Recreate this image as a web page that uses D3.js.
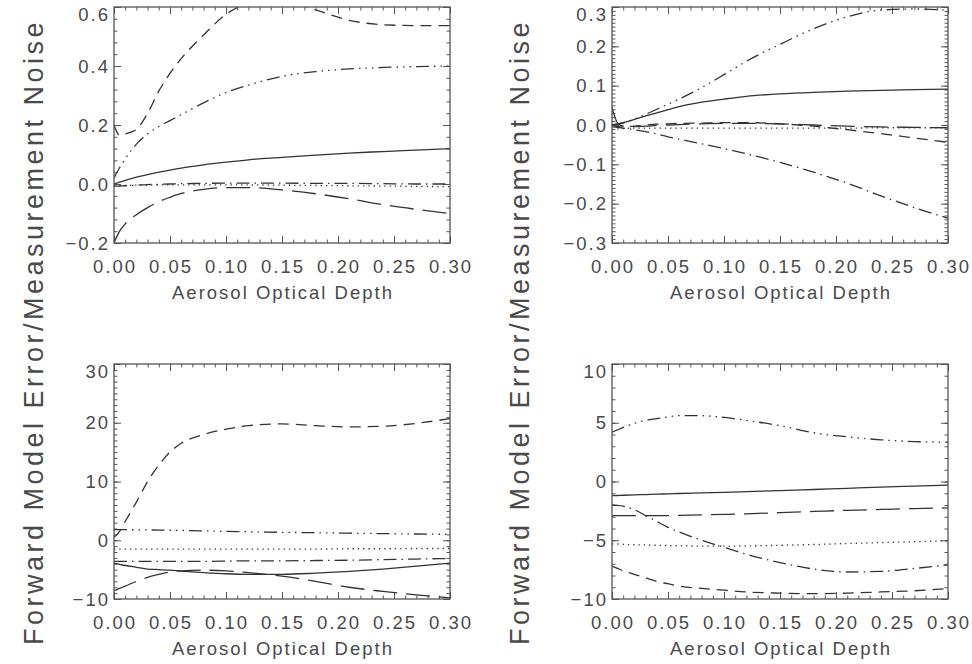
<!DOCTYPE html>
<html>
<head>
<meta charset="utf-8">
<script src="https://cdn.jsdelivr.net/npm/d3@7"></script>
<style>
  html, body { margin: 0; padding: 0; background: #fff; }
  svg { display: block; }
  text { font-family: "Liberation Sans", Arial, sans-serif; fill: #4a4a4a; }
</style>
</head>
<body>
<svg id="chart" width="972" height="664"></svg>
<script>
// ---------------- DATA ----------------
const xGrid = [0, 0.005, 0.01, 0.02, 0.03, 0.04, 0.05, 0.06, 0.08, 0.10, 0.12, 0.15, 0.18, 0.21, 0.24, 0.27, 0.30];
const xTicks = [0, 0.05, 0.10, 0.15, 0.20, 0.25, 0.30];
const xLabel = "Aerosol Optical Depth";
const yLabel = "Forward Model Error/Measurement Noise";
const seriesNames = ["solid", "dotted", "dashed", "dashDot", "dashDot3", "longDash"];

// Panel 1 (top-left)
const p1Solid    = [0, 0.006, 0.012, 0.023, 0.032, 0.040, 0.047, 0.054, 0.065, 0.074, 0.082, 0.090, 0.098, 0.105, 0.110, 0.115, 0.120];
const p1Dotted   = [-0.006, -0.006, -0.005, -0.004, -0.004, -0.003, -0.003, -0.003, -0.003, -0.003, -0.003, -0.004, -0.005, -0.006, -0.007, -0.008, -0.009];
const p1Dashed   = [0.20, 0.165, 0.17, 0.185, 0.24, 0.315, 0.375, 0.425, 0.505, 0.575, 0.612, 0.625, 0.59, 0.555, 0.54, 0.537, 0.537];
const p1DashDot  = [-0.008, -0.007, -0.006, -0.004, -0.002, -0.001, 0.0, 0.001, 0.002, 0.003, 0.003, 0.003, 0.002, 0.002, 0.001, 0.0, 0.0];
const p1DashDot3 = [0.02, 0.055, 0.085, 0.135, 0.17, 0.195, 0.215, 0.235, 0.275, 0.31, 0.335, 0.365, 0.381, 0.39, 0.395, 0.398, 0.40];
const p1LongDash = [-0.20, -0.16, -0.135, -0.104, -0.08, -0.06, -0.045, -0.032, -0.018, -0.012, -0.012, -0.02, -0.033, -0.05, -0.07, -0.086, -0.10];
const p1YTicks   = [-0.2, 0.0, 0.2, 0.4, 0.6];

// Panel 2 (top-right)
const p2Solid    = [0, 0.003, 0.006, 0.014, 0.023, 0.031, 0.039, 0.047, 0.058, 0.066, 0.073, 0.079, 0.083, 0.086, 0.088, 0.090, 0.091];
const p2Dotted   = [-0.012, -0.010, -0.009, -0.008, -0.008, -0.008, -0.008, -0.008, -0.008, -0.008, -0.008, -0.008, -0.008, -0.008, -0.007, -0.007, -0.007];
const p2Dashed   = [0.0, -0.004, -0.005, -0.003, 0.0, 0.002, 0.003, 0.004, 0.005, 0.006, 0.006, 0.003, -0.003, -0.012, -0.022, -0.033, -0.044];
const p2DashDot  = [-0.005, -0.006, -0.008, -0.012, -0.017, -0.023, -0.03, -0.036, -0.048, -0.06, -0.073, -0.095, -0.12, -0.148, -0.18, -0.21, -0.237];
const p2DashDot3 = [0, 0.002, 0.005, 0.015, 0.027, 0.04, 0.053, 0.066, 0.095, 0.128, 0.162, 0.205, 0.245, 0.275, 0.292, 0.295, 0.292];
const p2LongDash = [0.045, 0.005, -0.003, -0.004, -0.003, -0.001, 0.0, 0.001, 0.003, 0.004, 0.004, 0.003, 0.0, -0.003, -0.005, -0.006, -0.007];
const p2YTicks   = [-0.3, -0.2, -0.1, 0.0, 0.1, 0.2, 0.3];

// Panel 3 (bottom-left)
const p3Solid    = [-3.9, -4.1, -4.3, -4.6, -4.9, -5.0, -5.1, -5.25, -5.5, -5.7, -5.8, -5.8, -5.6, -5.3, -4.9, -4.4, -3.9];
const p3Dotted   = [-1.5, -1.5, -1.5, -1.5, -1.5, -1.5, -1.5, -1.5, -1.5, -1.5, -1.5, -1.5, -1.5, -1.45, -1.45, -1.4, -1.4];
const p3Dashed   = [0.5, 1.5, 3.2, 6.5, 10, 12.8, 15.0, 16.5, 18.0, 18.9, 19.5, 19.8, 19.5, 19.3, 19.4, 19.9, 20.7];
const p3DashDot  = [-3.6, -3.6, -3.6, -3.6, -3.6, -3.6, -3.6, -3.6, -3.6, -3.55, -3.5, -3.5, -3.45, -3.4, -3.3, -3.2, -3.1];
const p3DashDot3 = [1.8, 1.8, 1.8, 1.78, 1.76, 1.73, 1.7, 1.67, 1.6, 1.5, 1.45, 1.35, 1.28, 1.2, 1.13, 1.06, 1.0];
const p3LongDash = [-8.6, -8.2, -7.8, -7.0, -6.3, -5.8, -5.4, -5.2, -5.1, -5.2, -5.5, -6.1, -7.0, -8.0, -8.7, -9.3, -9.8];
const p3YTicks   = [-10, 0, 10, 20, 30];

// Panel 4 (bottom-right)
const p4Solid    = [-1.2, -1.19, -1.17, -1.14, -1.11, -1.08, -1.05, -1.02, -0.97, -0.92, -0.86, -0.78, -0.68, -0.58, -0.48, -0.39, -0.3];
const p4Dotted   = [-5.3, -5.32, -5.35, -5.38, -5.4, -5.43, -5.45, -5.47, -5.5, -5.5, -5.48, -5.43, -5.36, -5.28, -5.2, -5.12, -5.05];
const p4Dashed   = [-7.2, -7.4, -7.6, -7.9, -8.2, -8.5, -8.7, -8.9, -9.1, -9.25, -9.4, -9.5, -9.55, -9.5, -9.4, -9.3, -9.1];
const p4DashDot  = [-2.0, -2.03, -2.1, -2.4, -2.9, -3.4, -3.9, -4.3, -5.0, -5.6, -6.2, -6.9, -7.45, -7.7, -7.65, -7.4, -7.1];
const p4DashDot3 = [4.2, 4.4, 4.6, 4.95, 5.2, 5.35, 5.5, 5.6, 5.6, 5.45, 5.2, 4.75, 4.15, 3.8, 3.55, 3.4, 3.35];
const p4LongDash = [-2.9, -2.9, -2.9, -2.9, -2.9, -2.9, -2.9, -2.88, -2.84, -2.8, -2.75, -2.65, -2.55, -2.45, -2.38, -2.3, -2.25];
const p4YTicks   = [-10, -5, 0, 5, 10];

// ---------------- STYLE / LAYOUT ----------------
const dashes = {
  solid: null,
  dotted: "1.3,4",
  dashed: "11,7",
  dashDot: "13,5,1.5,5",
  dashDot3: "13,5,1.5,5,1.5,5,1.5,5",
  longDash: "24,9"
};
const ink = "#333";
const axisInk = "#555";

const panels = [
  { box: [114, 450, 7, 243],   yTicks: p1YTicks, yMinor: 0.04, fmt: d3.format(".1f"),
    series: [p1Solid, p1Dotted, p1Dashed, p1DashDot, p1DashDot3, p1LongDash] },
  { box: [612, 948, 7, 243],   yTicks: p2YTicks, yMinor: 0.01, fmt: d3.format(".1f"),
    series: [p2Solid, p2Dotted, p2Dashed, p2DashDot, p2DashDot3, p2LongDash] },
  { box: [114, 450, 364, 599], yTicks: p3YTicks, yMinor: 1, fmt: d3.format("d"),
    series: [p3Solid, p3Dotted, p3Dashed, p3DashDot, p3DashDot3, p3LongDash] },
  { box: [612, 948, 364, 599], yTicks: p4YTicks, yMinor: 1, fmt: d3.format("d"),
    series: [p4Solid, p4Dotted, p4Dashed, p4DashDot, p4DashDot3, p4LongDash] }
];

const svg = d3.select("#chart");
const LS = 2;          // letter spacing for tick / axis labels
const majorLen = 7, minorLen = 3.5;

panels.forEach((p, i) => {
  const [x0, x1, y0, y1] = p.box;
  const yDom = d3.extent(p.yTicks);
  const x = d3.scaleLinear().domain([0, 0.3]).range([x0, x1]);
  const y = d3.scaleLinear().domain(yDom).range([y1, y0]);
  const g = svg.append("g");

  const xMinorVals = d3.range(0, 31).map(k => k * 0.01);
  const nMinorY = Math.round((yDom[1] - yDom[0]) / p.yMinor);
  const yMinorVals = d3.range(0, nMinorY + 1).map(k => yDom[0] + k * p.yMinor);

  const axisStyle = sel => {
    sel.select(".domain").remove();
    sel.selectAll("line").attr("stroke", axisInk).attr("stroke-width", 1);
    sel.selectAll("text").remove();
  };

  g.append("g").attr("transform", `translate(0,${y1})`)
    .call(d3.axisBottom(x).tickValues(xMinorVals).tickSize(-minorLen).tickFormat("")).call(axisStyle);
  g.append("g").attr("transform", `translate(0,${y1})`)
    .call(d3.axisBottom(x).tickValues(xTicks).tickSize(-majorLen).tickFormat("")).call(axisStyle);
  g.append("g").attr("transform", `translate(0,${y0})`)
    .call(d3.axisTop(x).tickValues(xMinorVals).tickSize(-minorLen).tickFormat("")).call(axisStyle);
  g.append("g").attr("transform", `translate(0,${y0})`)
    .call(d3.axisTop(x).tickValues(xTicks).tickSize(-majorLen).tickFormat("")).call(axisStyle);
  g.append("g").attr("transform", `translate(${x0},0)`)
    .call(d3.axisLeft(y).tickValues(yMinorVals).tickSize(-minorLen).tickFormat("")).call(axisStyle);
  g.append("g").attr("transform", `translate(${x0},0)`)
    .call(d3.axisLeft(y).tickValues(p.yTicks).tickSize(-majorLen).tickFormat("")).call(axisStyle);
  g.append("g").attr("transform", `translate(${x1},0)`)
    .call(d3.axisRight(y).tickValues(yMinorVals).tickSize(-minorLen).tickFormat("")).call(axisStyle);
  g.append("g").attr("transform", `translate(${x1},0)`)
    .call(d3.axisRight(y).tickValues(p.yTicks).tickSize(-majorLen).tickFormat("")).call(axisStyle);

  const clipId = "clip" + i;
  svg.append("clipPath").attr("id", clipId)
    .append("rect").attr("x", x0).attr("y", y0).attr("width", x1 - x0).attr("height", y1 - y0);

  const line = d3.line().x(d => x(d[0])).y(d => y(d[1])).curve(d3.curveMonotoneX);
  p.series.forEach((vals, si) => {
    const pts = xGrid.map((xv, k) => [xv, vals[k]]);
    g.append("path")
      .attr("d", line(pts))
      .attr("fill", "none")
      .attr("stroke", ink)
      .attr("stroke-width", 1.3)
      .attr("stroke-dasharray", dashes[seriesNames[si]])
      .attr("clip-path", `url(#${clipId})`);
  });

  g.append("rect").attr("x", x0).attr("y", y0).attr("width", x1 - x0).attr("height", y1 - y0)
    .attr("fill", "none").attr("stroke", axisInk).attr("stroke-width", 1.3);

  g.selectAll(".xl").data(xTicks).enter().append("text")
    .attr("x", d => x(d) + LS / 2)
    .attr("y", y1 + 30)
    .attr("text-anchor", "middle")
    .attr("font-size", 18.5)
    .attr("letter-spacing", LS)
    .text(d => d3.format(".2f")(d));

  g.selectAll(".yl").data(p.yTicks).enter().append("text")
    .attr("x", x0 - 6 + LS)
    .attr("y", d => y(d) + (d === yDom[1] ? 14 : 6.5))
    .attr("text-anchor", "end")
    .attr("font-size", 18.5)
    .attr("letter-spacing", LS)
    .text(d => p.fmt(d));

  g.append("text")
    .attr("x", (x0 + x1) / 2 + LS / 2)
    .attr("y", y1 + 56)
    .attr("text-anchor", "middle")
    .attr("font-size", 18.5)
    .attr("letter-spacing", LS)
    .text(xLabel);
});

[43, 529].forEach(bx => {
  svg.append("text")
    .attr("transform", `translate(${bx},332) rotate(-90)`)
    .attr("text-anchor", "middle")
    .attr("font-size", 27)
    .attr("letter-spacing", 3.5)
    .text(yLabel);
});
</script>
</body>
</html>
